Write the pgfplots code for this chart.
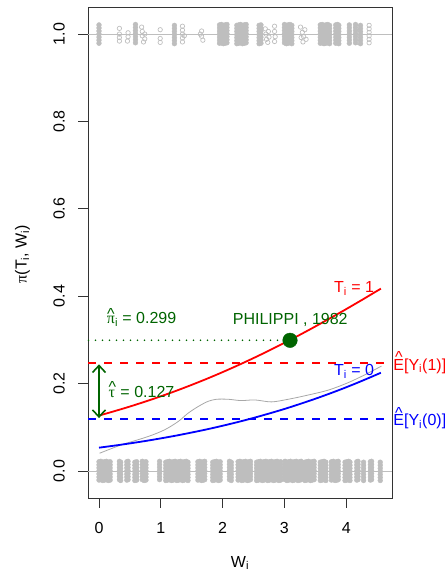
\documentclass[border=0pt]{standalone}
\usepackage{fontspec}
\setmainfont{Liberation Sans}
\newfontfamily\grk{Liberation Serif}
\usepackage{pgfplots}
\pgfplotsset{compat=1.18}
\usepackage{pgfplotstable}
\usetikzlibrary{arrows.meta}
\definecolor{rgrey}{HTML}{BEBEBE}
\definecolor{lgrey}{HTML}{A8A8A8}
\definecolor{dkgreen}{HTML}{006400}
\definecolor{pured}{HTML}{FF0000}
\definecolor{pureblue}{HTML}{0000FF}
\newcommand\hatover[2]{\ooalign{\hfil\raisebox{#1}{\char"5E}\hfil\cr#2\cr}}

% jittered outcomes Y=0 (columns of points)
\pgfplotstableread{
x ya yb yc yd ye yf yg
0.00 -0.021 -0.014 -0.007 0.000 0.007 0.014 0.021
0.03 -0.020 -0.013 -0.006 0.001 0.008 0.015 0.022
0.06 -0.022 -0.015 -0.008 -0.001 0.006 0.013 0.020
0.09 -0.021 -0.014 -0.007 0.000 0.007 0.014 0.021
0.12 -0.020 -0.013 -0.006 0.001 0.008 0.015 0.022
0.15 -0.022 -0.015 -0.008 -0.001 0.006 0.013 0.020
0.18 -0.021 -0.014 -0.007 0.000 0.007 0.014 0.021
0.33 -0.020 -0.013 -0.006 0.001 0.008 0.015 0.022
0.35 -0.022 -0.015 -0.008 -0.001 0.006 0.013 0.020
0.45 -0.021 -0.014 -0.007 0.000 0.007 0.014 0.021
0.47 -0.020 -0.013 -0.006 0.001 0.008 0.015 0.022
0.58 -0.022 -0.015 -0.008 -0.001 0.006 0.013 0.020
0.61 -0.021 -0.014 -0.007 0.000 0.007 0.014 0.021
0.70 -0.020 -0.013 -0.006 0.001 0.008 0.015 0.022
0.73 -0.022 -0.015 -0.008 -0.001 0.006 0.013 0.020
0.76 -0.021 -0.014 -0.007 0.000 0.007 0.014 0.021
0.98 -0.020 -0.013 -0.006 0.001 0.008 0.015 0.022
1.08 -0.022 -0.015 -0.008 -0.001 0.006 0.013 0.020
1.11 -0.021 -0.014 -0.007 0.000 0.007 0.014 0.021
1.14 -0.020 -0.013 -0.006 0.001 0.008 0.015 0.022
1.17 -0.022 -0.015 -0.008 -0.001 0.006 0.013 0.020
1.20 -0.021 -0.014 -0.007 0.000 0.007 0.014 0.021
1.23 -0.020 -0.013 -0.006 0.001 0.008 0.015 0.022
1.26 -0.022 -0.015 -0.008 -0.001 0.006 0.013 0.020
1.29 -0.021 -0.014 -0.007 0.000 0.007 0.014 0.021
1.32 -0.020 -0.013 -0.006 0.001 0.008 0.015 0.022
1.35 -0.022 -0.015 -0.008 -0.001 0.006 0.013 0.020
1.38 -0.021 -0.014 -0.007 0.000 0.007 0.014 0.021
1.41 -0.020 -0.013 -0.006 0.001 0.008 0.015 0.022
1.44 -0.022 -0.015 -0.008 -0.001 0.006 0.013 0.020
1.60 -0.021 -0.014 -0.007 0.000 0.007 0.014 0.021
1.63 -0.020 -0.013 -0.006 0.001 0.008 0.015 0.022
1.66 -0.022 -0.015 -0.008 -0.001 0.006 0.013 0.020
1.69 -0.021 -0.014 -0.007 0.000 0.007 0.014 0.021
1.71 -0.020 -0.013 -0.006 0.001 0.008 0.015 0.022
1.84 -0.022 -0.015 -0.008 -0.001 0.006 0.013 0.020
1.87 -0.021 -0.014 -0.007 0.000 0.007 0.014 0.021
1.90 -0.020 -0.013 -0.006 0.001 0.008 0.015 0.022
1.93 -0.022 -0.015 -0.008 -0.001 0.006 0.013 0.020
1.96 -0.021 -0.014 -0.007 0.000 0.007 0.014 0.021
2.11 -0.020 -0.013 -0.006 0.001 0.008 0.015 0.022
2.14 -0.022 -0.015 -0.008 -0.001 0.006 0.013 0.020
2.25 -0.021 -0.014 -0.007 0.000 0.007 0.014 0.021
2.28 -0.020 -0.013 -0.006 0.001 0.008 0.015 0.022
2.31 -0.022 -0.015 -0.008 -0.001 0.006 0.013 0.020
2.34 -0.021 -0.014 -0.007 0.000 0.007 0.014 0.021
2.37 -0.020 -0.013 -0.006 0.001 0.008 0.015 0.022
2.40 -0.022 -0.015 -0.008 -0.001 0.006 0.013 0.020
2.43 -0.021 -0.014 -0.007 0.000 0.007 0.014 0.021
2.45 -0.020 -0.013 -0.006 0.001 0.008 0.015 0.022
2.55 -0.022 -0.015 -0.008 -0.001 0.006 0.013 0.020
2.58 -0.021 -0.014 -0.007 0.000 0.007 0.014 0.021
2.61 -0.020 -0.013 -0.006 0.001 0.008 0.015 0.022
2.64 -0.022 -0.015 -0.008 -0.001 0.006 0.013 0.020
2.67 -0.021 -0.014 -0.007 0.000 0.007 0.014 0.021
2.70 -0.020 -0.013 -0.006 0.001 0.008 0.015 0.022
2.73 -0.022 -0.015 -0.008 -0.001 0.006 0.013 0.020
2.76 -0.021 -0.014 -0.007 0.000 0.007 0.014 0.021
2.79 -0.020 -0.013 -0.006 0.001 0.008 0.015 0.022
2.82 -0.022 -0.015 -0.008 -0.001 0.006 0.013 0.020
2.85 -0.021 -0.014 -0.007 0.000 0.007 0.014 0.021
2.88 -0.020 -0.013 -0.006 0.001 0.008 0.015 0.022
2.91 -0.022 -0.015 -0.008 -0.001 0.006 0.013 0.020
2.94 -0.021 -0.014 -0.007 0.000 0.007 0.014 0.021
3.01 -0.020 -0.013 -0.006 0.001 0.008 0.015 0.022
3.04 -0.022 -0.015 -0.008 -0.001 0.006 0.013 0.020
3.07 -0.021 -0.014 -0.007 0.000 0.007 0.014 0.021
3.10 -0.020 -0.013 -0.006 0.001 0.008 0.015 0.022
3.13 -0.022 -0.015 -0.008 -0.001 0.006 0.013 0.020
3.16 -0.021 -0.014 -0.007 0.000 0.007 0.014 0.021
3.19 -0.020 -0.013 -0.006 0.001 0.008 0.015 0.022
3.22 -0.022 -0.015 -0.008 -0.001 0.006 0.013 0.020
3.25 -0.021 -0.014 -0.007 0.000 0.007 0.014 0.021
3.27 -0.020 -0.013 -0.006 0.001 0.008 0.015 0.022
3.33 -0.022 -0.015 -0.008 -0.001 0.006 0.013 0.020
3.36 -0.021 -0.014 -0.007 0.000 0.007 0.014 0.021
3.39 -0.020 -0.013 -0.006 0.001 0.008 0.015 0.022
3.42 -0.022 -0.015 -0.008 -0.001 0.006 0.013 0.020
3.45 -0.021 -0.014 -0.007 0.000 0.007 0.014 0.021
3.48 -0.020 -0.013 -0.006 0.001 0.008 0.015 0.022
3.58 -0.022 -0.015 -0.008 -0.001 0.006 0.013 0.020
3.61 -0.021 -0.014 -0.007 0.000 0.007 0.014 0.021
3.64 -0.020 -0.013 -0.006 0.001 0.008 0.015 0.022
3.67 -0.022 -0.015 -0.008 -0.001 0.006 0.013 0.020
3.76 -0.021 -0.014 -0.007 0.000 0.007 0.014 0.021
3.79 -0.020 -0.013 -0.006 0.001 0.008 0.015 0.022
3.82 -0.022 -0.015 -0.008 -0.001 0.006 0.013 0.020
3.85 -0.021 -0.014 -0.007 0.000 0.007 0.014 0.021
3.87 -0.020 -0.013 -0.006 0.001 0.008 0.015 0.022
3.98 -0.022 -0.015 -0.008 -0.001 0.006 0.013 0.020
4.01 -0.021 -0.014 -0.007 0.000 0.007 0.014 0.021
4.04 -0.020 -0.013 -0.006 0.001 0.008 0.015 0.022
4.06 -0.022 -0.015 -0.008 -0.001 0.006 0.013 0.020
4.17 -0.021 -0.014 -0.007 0.000 0.007 0.014 0.021
4.19 -0.020 -0.013 -0.006 0.001 0.008 0.015 0.022
4.28 -0.022 -0.015 -0.008 -0.001 0.006 0.013 0.020
4.39 -0.021 -0.014 -0.007 0.000 0.007 0.014 0.021
4.41 -0.020 -0.013 -0.006 0.001 0.008 0.015 0.022
4.55 -0.022 -0.015 -0.008 -0.001 0.006 0.013 0.020
}\bottomband

% jittered outcomes Y=1, dense columns
\pgfplotstableread{
x ya yb yc yd ye yf yg
0.00 0.979 0.986 0.993 1.000 1.007 1.014 1.021
0.59 0.980 0.987 0.994 1.001 1.008 1.015 1.022
1.22 0.978 0.985 0.992 0.999 1.006 1.013 1.020
1.95 0.979 0.986 0.993 1.000 1.007 1.014 1.021
1.98 0.980 0.987 0.994 1.001 1.008 1.015 1.022
2.01 0.978 0.985 0.992 0.999 1.006 1.013 1.020
2.04 0.979 0.986 0.993 1.000 1.007 1.014 1.021
2.07 0.980 0.987 0.994 1.001 1.008 1.015 1.022
2.23 0.978 0.985 0.992 0.999 1.006 1.013 1.020
2.26 0.979 0.986 0.993 1.000 1.007 1.014 1.021
2.29 0.980 0.987 0.994 1.001 1.008 1.015 1.022
2.32 0.978 0.985 0.992 0.999 1.006 1.013 1.020
2.35 0.979 0.986 0.993 1.000 1.007 1.014 1.021
2.38 0.980 0.987 0.994 1.001 1.008 1.015 1.022
2.59 0.978 0.985 0.992 0.999 1.006 1.013 1.020
2.62 0.979 0.986 0.993 1.000 1.007 1.014 1.021
3.00 0.980 0.987 0.994 1.001 1.008 1.015 1.022
3.03 0.978 0.985 0.992 0.999 1.006 1.013 1.020
3.06 0.979 0.986 0.993 1.000 1.007 1.014 1.021
3.09 0.980 0.987 0.994 1.001 1.008 1.015 1.022
3.12 0.978 0.985 0.992 0.999 1.006 1.013 1.020
3.58 0.979 0.986 0.993 1.000 1.007 1.014 1.021
3.61 0.980 0.987 0.994 1.001 1.008 1.015 1.022
3.64 0.978 0.985 0.992 0.999 1.006 1.013 1.020
3.67 0.979 0.986 0.993 1.000 1.007 1.014 1.021
3.70 0.980 0.987 0.994 1.001 1.008 1.015 1.022
3.73 0.978 0.985 0.992 0.999 1.006 1.013 1.020
3.83 0.979 0.986 0.993 1.000 1.007 1.014 1.021
3.86 0.980 0.987 0.994 1.001 1.008 1.015 1.022
3.88 0.978 0.985 0.992 0.999 1.006 1.013 1.020
4.05 0.979 0.986 0.993 1.000 1.007 1.014 1.021
4.15 0.980 0.987 0.994 1.001 1.008 1.015 1.022
4.23 0.978 0.985 0.992 0.999 1.006 1.013 1.020
}\topband

% jittered outcomes Y=1, isolated points
\pgfplotstableread{
x y
0.33 1.013
0.33 1.000
0.33 0.992
0.33 0.984
0.47 1.003
0.47 0.994
0.46 0.984
0.69 1.016
0.70 1.006
0.70 0.996
0.74 1.000
0.74 0.989
0.72 0.982
0.99 1.010
0.99 0.990
0.99 0.981
1.35 1.018
1.35 1.009
1.35 1.000
1.35 0.991
1.35 0.982
1.38 0.996
1.66 1.007
1.66 0.995
1.68 0.986
1.64 1.000
2.69 1.012
2.70 1.000
2.71 0.988
2.74 1.006
2.75 0.993
2.73 0.981
2.84 1.018
2.84 1.006
2.85 0.994
2.84 0.983
3.26 1.016
3.29 1.004
3.31 0.994
3.33 1.010
3.30 0.982
3.35 0.988
3.27 0.992
4.19 1.015
4.19 1.003
4.20 0.991
4.19 0.981
4.37 1.020
4.37 1.012
4.37 1.004
4.37 0.996
4.37 0.988
4.37 0.980
}\topscatter

\pgfplotstableread{
x y
0.00 0.1267
0.25 0.1368
0.50 0.1474
0.75 0.1588
1.00 0.1708
1.25 0.1835
1.50 0.1970
1.75 0.2112
2.00 0.2262
2.25 0.2419
2.50 0.2583
2.75 0.2754
3.00 0.2932
3.25 0.3116
3.50 0.3307
3.75 0.3504
4.00 0.3705
4.25 0.3911
4.50 0.4122
4.56 0.4173
}\fittreated

\pgfplotstableread{
x y
0.00 0.0532
0.25 0.0579
0.50 0.0630
0.75 0.0685
1.00 0.0745
1.25 0.0809
1.50 0.0879
1.75 0.0953
2.00 0.1034
2.25 0.1120
2.50 0.1213
2.75 0.1313
3.00 0.1418
3.25 0.1532
3.50 0.1652
3.75 0.1780
4.00 0.1915
4.25 0.2059
4.50 0.2210
4.56 0.2247
}\fitcontrol

\pgfplotstableread{
x y
0.01 0.0405
0.36 0.0595
0.79 0.0785
1.06 0.0940
1.28 0.1130
1.44 0.1320
1.60 0.1470
1.76 0.1590
1.90 0.1640
2.09 0.1640
2.30 0.1610
2.52 0.1625
2.79 0.1580
3.06 0.1640
3.33 0.1720
3.71 0.1850
4.03 0.2020
4.30 0.2200
4.57 0.2400
}\loessdata

\pgfplotstableread{
x y
-0.178 0.246
4.74 0.246
}\meanone

\pgfplotstableread{
x y
-0.178 0.119
4.74 0.119
}\meanzero

\begin{document}
\fontsize{16bp}{19bp}\selectfont
\begin{tikzpicture}
\useasboundingbox (0,0) rectangle (445bp,571bp);
\begin{axis}[
  at={(88bp,73bp)}, anchor=south west,
  scale only axis, width=304bp, height=491bp,
  xmin=-0.178, xmax=4.74, ymin=-0.062, ymax=1.062,
  clip=false,
  axis line style={black!80, line width=0.8bp},
  xtick={0,1,2,3,4}, ytick={0,0.2,0.4,0.6,0.8,1},
  tick align=outside, xtick pos=lower, ytick pos=left,
  major tick length=10bp,
  tick style={black!80, line width=0.8bp},
  /pgf/number format/assume math mode=true,
  xticklabel shift=9bp,
  yticklabel shift=7.7bp,
  yticklabel style={rotate=90, anchor=south,
    /pgf/number format/fixed, /pgf/number format/fixed zerofill,
    /pgf/number format/precision=1},
  jitd/.style={only marks, mark=*, mark size=2.4bp, color=rgrey, mark options={solid, fill=rgrey, draw=rgrey, line width=0.4bp}},
  jito/.style={only marks, mark=o, mark size=2.2bp, color=rgrey, mark options={solid, draw=rgrey, line width=0.7bp}},
]
% reference lines at 0 and 1
\addplot[color=rgrey, line width=0.8bp] coordinates {(-0.178,0) (4.74,0)};
\addplot[color=rgrey, line width=0.8bp] coordinates {(-0.178,1) (4.74,1)};
% jittered observations, Y = 0
\addplot[jitd] table[x=x, y=ya] {\bottomband};
\addplot[jitd] table[x=x, y=yb] {\bottomband};
\addplot[jitd] table[x=x, y=yc] {\bottomband};
\addplot[jitd] table[x=x, y=yd] {\bottomband};
\addplot[jitd] table[x=x, y=ye] {\bottomband};
\addplot[jitd] table[x=x, y=yf] {\bottomband};
\addplot[jitd] table[x=x, y=yg] {\bottomband};
% jittered observations, Y = 1
\addplot[jitd] table[x=x, y=ya] {\topband};
\addplot[jitd] table[x=x, y=yb] {\topband};
\addplot[jitd] table[x=x, y=yc] {\topband};
\addplot[jitd] table[x=x, y=yd] {\topband};
\addplot[jitd] table[x=x, y=ye] {\topband};
\addplot[jitd] table[x=x, y=yf] {\topband};
\addplot[jitd] table[x=x, y=yg] {\topband};
\addplot[jito] table[x=x, y=y] {\topscatter};
% smoother
\addplot[color=lgrey, line width=0.8bp, smooth] table[x=x, y=y] {\loessdata};
% estimated potential-outcome means
\addplot[color=pureblue, line width=2bp, dash pattern=on 7.5bp off 8.5bp] table[x=x, y=y] {\meanzero};
\addplot[color=pured, line width=2bp, dash pattern=on 7.5bp off 8.5bp] table[x=x, y=y] {\meanone};
% fitted curves
\addplot[color=pured, line width=1.8bp, smooth] table[x=x, y=y] {\fittreated};
\addplot[color=pureblue, line width=1.8bp, smooth] table[x=x, y=y] {\fitcontrol};
% highlighted trial
\addplot[color=dkgreen, line width=1.8bp, line cap=round, dash pattern=on 0bp off 7bp] coordinates {(-0.17,0.299) (3.09,0.299)};
\addplot[only marks, mark=*, mark size=7.3bp, color=dkgreen, mark options={fill=dkgreen, draw=dkgreen}] coordinates {(3.09,0.299)};
% tau arrow
\addplot[color=dkgreen, line width=1.6bp, {Straight Barb[length=7bp,width=13bp]}-{Straight Barb[length=7bp,width=13bp]}] coordinates {(0,0.121) (0,0.244)};
% annotations
\node[anchor=base west, inner sep=0, text=pured] at (axis cs:3.80,0.4076) {T\textsubscript{i} = 1};
\node[anchor=base west, inner sep=0, text=pureblue] at (axis cs:3.80,0.2174) {T\textsubscript{i} = 0};
\node[anchor=base west, inner sep=0, text=dkgreen] at (axis cs:2.163,0.3357) {PHILIPPI , 1982};
\node[anchor=base west, inner sep=0, text=dkgreen] at (axis cs:0.125,0.3364) {\hatover{0.3em}{\grk π}\textsubscript{i} = 0.299};
\node[anchor=base west, inner sep=0, text=dkgreen] at (axis cs:0.151,0.1686) {\hatover{0.3em}{\grk τ} = 0.127};
\node[anchor=base west, inner sep=0, text=pured] at (axis cs:4.76,0.231) {\hatover{0.45em}{E}[Y\textsubscript{i}(1)]};
\node[anchor=base west, inner sep=0, text=pureblue] at (axis cs:4.76,0.104) {\hatover{0.45em}{E}[Y\textsubscript{i}(0)]};
\end{axis}
\node[anchor=base] at (240bp,4bp) {W\textsubscript{i}};
\node[anchor=base, rotate=90] at (26.5bp,317bp) {{\grk π}(T\textsubscript{i}, W\textsubscript{i})};
\end{tikzpicture}
\end{document}
